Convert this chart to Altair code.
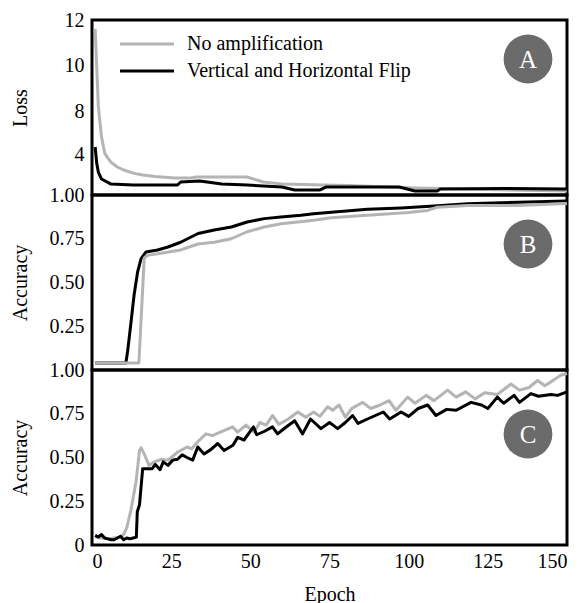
import altair as alt
import pandas as pd

SERIES = ["No amplification", "Vertical and Horizontal Flip"]
COLORS = ["#b4b4b4", "#000000"]
PANEL_LETTERS = ["A", "B", "C"]

X_TICKS = [0, 25, 50, 75, 100, 125, 150]
A_TICKS = [4, 8, 10, 12]
B_TICKS = [0.25, 0.5, 0.75, 1.0]
C_TICKS = [0, 0.25, 0.5, 0.75, 1.0]

# Panel A: loss
loss_none_epoch = [1, 2, 3, 4, 5, 6, 8, 10, 13, 16, 20, 26, 31, 33, 49, 54, 60, 73, 81, 102, 125, 150]
loss_none = [11.6, 8.2, 5.6, 4.1, 3.7, 3.4, 3.05, 2.83, 2.6, 2.46, 2.35, 2.24, 2.24, 2.32, 2.32,
             1.95, 1.8, 1.73, 1.69, 1.51, 1.4, 1.29]
loss_flip_epoch = [1, 1.5, 2, 3, 6, 13, 27, 28, 34, 41, 49, 60, 64, 72, 74, 97, 102, 109, 110, 130, 150]
loss_flip = [4.65, 3.3, 2.68, 2.17, 1.8, 1.73, 1.73, 1.95, 2.02, 1.8, 1.73, 1.59, 1.37, 1.37, 1.59,
             1.59, 1.29, 1.29, 1.44, 1.48, 1.44]

# Panel B: accuracy
accb_none_epoch = [1, 14.8, 16.5, 17.5, 22.7, 28, 33.5, 38.6, 44, 49, 54.4, 59.7, 65, 70, 75.5,
                   87, 100, 106, 109, 118.7, 134.5, 150]
accb_none = [0.04, 0.04, 0.64, 0.655, 0.67, 0.686, 0.72, 0.73, 0.75, 0.79, 0.817, 0.836, 0.846,
             0.856, 0.87, 0.884, 0.9, 0.912, 0.93, 0.94, 0.94, 0.952]
accb_flip_epoch = [1, 10.7, 11.3, 12.3, 13.3, 14.4, 15.5, 17, 20.7, 24, 28, 33.5, 38.6, 44, 49,
                   54.4, 59.7, 66, 70, 76.5, 87, 97.6, 108, 118.7, 129, 150]
accb_flip = [0.04, 0.04, 0.114, 0.27, 0.43, 0.56, 0.636, 0.674, 0.686, 0.703, 0.73, 0.78, 0.8,
             0.817, 0.846, 0.865, 0.874, 0.884, 0.893, 0.903, 0.918, 0.926, 0.937, 0.95, 0.956, 0.966]

# Panel C: accuracy
accc_none_epoch = [1, 3, 5, 7, 9, 10, 11, 12.3, 13.9, 15, 15.5, 16.5, 18, 19.7, 22, 24, 27, 30,
                   31.5, 33.4, 36, 38, 41.8, 44.4, 46, 48.6, 51.2, 53, 55, 57, 59, 62, 65, 67.5,
                   70, 72, 74.4, 76, 78, 80, 82, 85.5, 88, 91, 93.8, 96, 99.7, 102, 105.5, 108,
                   112.3, 115, 118, 121, 124, 128, 132.3, 135, 138, 140.7, 143, 146, 148, 150]
accc_none = [0.05, 0.04, 0.035, 0.04, 0.045, 0.06, 0.1, 0.2, 0.36, 0.54, 0.555, 0.52, 0.455,
             0.475, 0.49, 0.485, 0.53, 0.56, 0.55, 0.59, 0.635, 0.625, 0.655, 0.675, 0.645,
             0.685, 0.645, 0.7, 0.685, 0.74, 0.69, 0.72, 0.76, 0.73, 0.76, 0.735, 0.79, 0.77,
             0.8, 0.73, 0.78, 0.815, 0.78, 0.8, 0.825, 0.77, 0.845, 0.81, 0.855, 0.825, 0.885,
             0.845, 0.875, 0.835, 0.87, 0.86, 0.92, 0.885, 0.9, 0.94, 0.91, 0.945, 0.97, 0.98]
accc_flip_epoch = [1, 2, 3, 4, 5, 6, 7, 8, 9, 10, 11, 12, 13, 14, 14.3, 15, 16, 19, 20, 21.5,
                   22.5, 24, 25.5, 27, 28.5, 30, 31.8, 33.4, 35.4, 37.5, 39.7, 41.7, 44.5, 46,
                   48, 51, 52, 54.5, 57, 58.6, 61, 64, 66.5, 69, 72.3, 75, 77.6, 80, 82.3, 84,
                   87, 92, 94, 97.6, 100, 103, 106, 108.6, 112, 115, 119.7, 123, 125, 128, 130,
                   133.3, 135, 138.6, 141, 145, 147, 150]
accc_flip = [0.055, 0.045, 0.06, 0.04, 0.035, 0.03, 0.03, 0.04, 0.05, 0.03, 0.04, 0.035, 0.04,
             0.045, 0.19, 0.23, 0.436, 0.436, 0.46, 0.43, 0.475, 0.455, 0.485, 0.49, 0.515, 0.5,
             0.485, 0.56, 0.52, 0.545, 0.58, 0.54, 0.57, 0.615, 0.6, 0.675, 0.63, 0.65, 0.675,
             0.635, 0.67, 0.71, 0.635, 0.72, 0.665, 0.7, 0.665, 0.7, 0.74, 0.695, 0.72, 0.76,
             0.72, 0.76, 0.735, 0.78, 0.8, 0.74, 0.775, 0.77, 0.815, 0.8, 0.78, 0.845, 0.81,
             0.855, 0.815, 0.865, 0.85, 0.86, 0.855, 0.875]

FONT = "Liberation Serif, Times New Roman, Times, serif"
W, H = 475, 175

xscale = alt.Scale(domain=[0, 150], nice=False)


def df(ep, vals):
    return pd.DataFrame({"epoch": ep, "value": vals})


def line(ep, vals, color, yenc, xaxis):
    return alt.Chart(df(ep, vals)).mark_line(color=color, strokeWidth=3, strokeJoin="round").encode(
        x=alt.X("epoch:Q", scale=xscale, axis=xaxis),
        y=yenc,
    )


def badge(letter, cx, cy):
    d = pd.DataFrame({"letter": [letter]})
    c = alt.Chart(d).mark_circle(size=2380, color="#6b6b6b", opacity=1).encode(
        x=alt.value(cx), y=alt.value(cy))
    t = alt.Chart(d).mark_text(color="white", font=FONT, fontSize=25, baseline="middle",
                               align="center", dy=1).encode(
        x=alt.value(cx), y=alt.value(cy), text="letter:N")
    return c + t


def yaxis(title, values, fmt=None, expr=None):
    kw = dict(title=title, values=values, titleX=-62)
    if fmt:
        kw["format"] = fmt
    if expr:
        kw["labelExpr"] = expr
    return alt.Axis(**kw)


# Panel A
ya = alt.Y("value:Q", scale=alt.Scale(domain=[1, 4, 8, 10, 12], range=[175, 134, 91, 45, 0], nice=False),
           axis=yaxis("Loss", A_TICKS))
legend_layers = []
for i, (s, c) in enumerate(zip(SERIES, COLORS)):
    d = pd.DataFrame({"label": [s]})
    yy = 24 + 27 * i
    legend_layers.append(alt.Chart(d).mark_rule(color=c, strokeWidth=3).encode(
        x=alt.value(28), x2=alt.value(82), y=alt.value(yy)))
    legend_layers.append(alt.Chart(d).mark_text(align="left", baseline="middle", font=FONT,
                                                fontSize=20, color="black").encode(
        x=alt.value(95), y=alt.value(yy), text="label:N"))

panel_a = alt.layer(
    line(loss_none_epoch, loss_none, COLORS[0], ya, None),
    line(loss_flip_epoch, loss_flip, COLORS[1], ya, None),
    *legend_layers,
    badge(PANEL_LETTERS[0], 436, 39),
).properties(width=W, height=H)

# Panel B
yb = alt.Y("value:Q", scale=alt.Scale(domain=[0, 1], nice=False),
           axis=yaxis("Accuracy", B_TICKS, fmt=".2f"))
panel_b = alt.layer(
    line(accb_flip_epoch, accb_flip, COLORS[1], yb, None),
    line(accb_none_epoch, accb_none, COLORS[0], yb, None),
    badge(PANEL_LETTERS[1], 436, 49),
).properties(width=W, height=H)

# Panel C
yc = alt.Y("value:Q", scale=alt.Scale(domain=[0, 1], nice=False),
           axis=yaxis("Accuracy", C_TICKS, expr="datum.value == 0 ? '0' : format(datum.value, '.2f')"))
xaxis_c = alt.Axis(title="Epoch", values=X_TICKS, titlePadding=13, labelPadding=6)
panel_c = alt.layer(
    line(accc_none_epoch, accc_none, COLORS[0], yc, xaxis_c),
    line(accc_flip_epoch, accc_flip, COLORS[1], yc, xaxis_c),
    badge(PANEL_LETTERS[2], 436, 64),
).properties(width=W, height=H)

chart = alt.vconcat(panel_a, panel_b, panel_c, spacing=0, bounds="flush").properties(
    padding={"top": 0, "left": 0, "right": 5, "bottom": 0}
).configure_view(
    stroke="black", strokeWidth=3
).configure_axis(
    labelFont=FONT, labelFontSize=20, labelColor="black",
    titleFont=FONT, titleFontSize=20, titleFontWeight="normal", titleColor="black",
    ticks=False, domain=False, grid=False, labelPadding=8,
).configure_concat(spacing=0)

chart.save("out.html", embed_options={"renderer": "svg", "actions": False})
